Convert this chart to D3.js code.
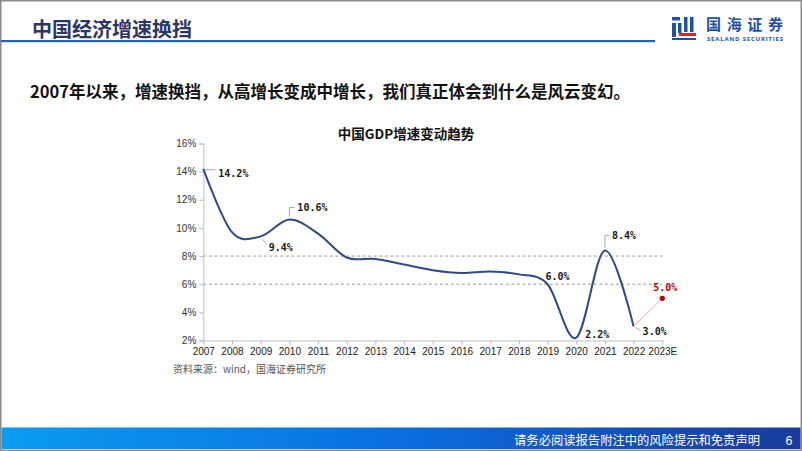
<!DOCTYPE html>
<html><head><meta charset="utf-8">
<script src="https://cdn.jsdelivr.net/npm/d3@7/dist/d3.min.js"></script>
<style>
html,body{margin:0;padding:0;background:#fff;}
svg{display:block;}
</style></head>
<body>
<svg id="c" width="802" height="451"></svg>
<script>
const years = ["2007","2008","2009","2010","2011","2012","2013","2014","2015","2016","2017","2018","2019","2020","2021","2022","2023E"];
const gdpActual = [14.2,9.7,9.4,10.6,9.6,7.9,7.8,7.4,7.0,6.8,6.9,6.7,6.0,2.2,8.4,3.0,null];
const gdpForecast = [null,null,null,null,null,null,null,null,null,null,null,null,null,null,null,3.0,5.0];
const yTicks = [2,4,6,8,10,12,14,16];
const refLines = [8,6];
const labelYears = ["2007","2009","2010","2019","2020","2021","2022","2023E"];
const labelTexts = ["14.2%","9.4%","10.6%","6.0%","2.2%","8.4%","3.0%","5.0%"];

const svg = d3.select("#c");
const CJK = "'Noto Sans CJK SC','Noto Sans',sans-serif";

// frame
svg.append("rect").attr("x",0.75).attr("y",0.75).attr("width",800.5).attr("height",449.5)
  .attr("fill","#fff").attr("stroke","#8a8a8a").attr("stroke-width",1.5);

// header
svg.append("text").attr("x",32).attr("y",37).attr("font-family",CJK).attr("font-weight",700)
  .attr("font-size",20).attr("fill","#2b3668").text("中国经济增速换挡");
svg.append("rect").attr("x",1).attr("y",40).attr("width",654).attr("height",2.2).attr("fill","#1f63c4");

// logo
const lg = svg.append("g");
lg.append("rect").attr("x",672).attr("y",17).attr("width",8).attr("height",3.5).attr("fill","#1e50a8");
lg.append("rect").attr("x",672).attr("y",23).attr("width",4).attr("height",14).attr("fill","#1e50a8");
lg.append("rect").attr("x",678).attr("y",23).attr("width",3.5).attr("height",10).attr("fill","#1e50a8");
lg.append("rect").attr("x",684).attr("y",17).attr("width",3.5).attr("height",15).attr("fill","#1e50a8");
lg.append("rect").attr("x",690).attr("y",17).attr("width",3.5).attr("height",15).attr("fill","#1e50a8");
lg.append("rect").attr("x",679).attr("y",33).attr("width",17).attr("height",3).attr("fill","#d8262e");
lg.append("rect").attr("x",672).attr("y",38).attr("width",24).attr("height",2).attr("fill","#1e50a8");
lg.append("text").attr("x",706).attr("y",30).attr("font-family",CJK).attr("font-weight",700)
  .attr("font-size",15).attr("fill","#1e50a8").attr("textLength",77).text("国海证券");
lg.append("text").attr("x",707).attr("y",41).attr("font-family","'Open Sans','Liberation Sans',sans-serif").attr("font-weight",700)
  .attr("font-size",6).attr("fill","#1e50a8").attr("textLength",76).text("SEALAND SECURITIES");

// subtitle
svg.append("text").attr("x",30).attr("y",98).attr("font-family",CJK).attr("font-weight",700)
  .attr("font-size",16.5).attr("fill","#111").text("2007年以来，增速换挡，从高增长变成中增长，我们真正体会到什么是风云变幻。");

// chart title
svg.append("text").attr("x",406).attr("y",139).attr("text-anchor","middle").attr("font-family",CJK).attr("font-weight",700)
  .attr("font-size",13.5).attr("fill","#111").text("中国GDP增速变动趋势");

// scales
const x = d3.scalePoint().domain(years).range([203.3,662.3]);
const y = d3.scaleLinear().domain([2,16]).range([340.5,143.5]);

// axes
const yAxis = svg.append("g").attr("transform","translate(203.3,0)")
  .call(d3.axisLeft(y).tickValues(yTicks).tickSize(4).tickPadding(3).tickFormat(d=>d+"%"));
yAxis.select(".domain").attr("stroke","#bfbfbf");
yAxis.selectAll(".tick line").attr("stroke","#bfbfbf");
yAxis.selectAll(".tick text").attr("font-family","'Liberation Sans Narrow','Liberation Sans',sans-serif")
  .attr("font-size",10).attr("fill","#333");

const xAxis = svg.append("g").attr("transform","translate(0,340.5)")
  .call(d3.axisBottom(x).tickSize(4).tickPadding(3).tickSizeOuter(0));
xAxis.select(".domain").attr("stroke","#bfbfbf");
xAxis.selectAll(".tick line").attr("stroke","#bfbfbf");
xAxis.selectAll(".tick text").attr("font-family","'Liberation Sans',sans-serif")
  .attr("font-size",10).attr("fill","#222");

// reference dashed lines
svg.selectAll(".ref").data(refLines).enter().append("line")
  .attr("x1",x(years[0])).attr("x2",x(years[years.length-1]))
  .attr("y1",d=>y(d)).attr("y2",d=>y(d))
  .attr("stroke","#9a9a9a").attr("stroke-width",1).attr("stroke-dasharray","3,2.5");

// lines
const pts = years.map((yr,i)=>({yr,v:gdpActual[i]})).filter(d=>d.v!=null);
const line = d3.line().x(d=>x(d.yr)).y(d=>y(d.v)).curve(d3.curveCardinal.tension(0));
svg.append("path").datum(pts).attr("d",line).attr("fill","none").attr("stroke","#2f4a8a").attr("stroke-width",2);

const fpts = years.map((yr,i)=>({yr,v:gdpForecast[i]})).filter(d=>d.v!=null);
svg.append("path").datum(fpts).attr("d",d3.line().x(d=>x(d.yr)).y(d=>y(d.v)))
  .attr("fill","none").attr("stroke","#f2a2a2").attr("stroke-width",1);
svg.append("circle").attr("cx",x("2023E")).attr("cy",y(gdpForecast[16])).attr("r",2.6).attr("fill","#c00000");

// data labels (offsets are styling)
const style = {
  "2007": {dx:15, dy:4, leader:[[2,1],[12,1]]},
  "2009": {dx:8, dy:11, leader:[[2,3],[6,8]]},
  "2010": {dx:8, dy:-12, leader:[[0,-3],[0,-12],[5,-12]]},
  "2019": {dx:-2, dy:-8, leader:null},
  "2020": {dx:9, dy:-4, leader:null},
  "2021": {dx:7, dy:-15, leader:[[0,-3],[0,-15],[4,-15]]},
  "2022": {dx:9, dy:5, leader:[[2,1],[7,4]]},
  "2023E": {dx:-9, dy:-11, leader:null}
};
labelYears.forEach((yr,i)=>{
  const idx = years.indexOf(yr);
  const v = gdpActual[idx]!=null ? gdpActual[idx] : gdpForecast[idx];
  const px = x(yr), py = y(v), s = style[yr];
  if (s.leader) {
    svg.append("path").attr("d", d3.line()(s.leader.map(p=>[px+p[0],py+p[1]])))
      .attr("fill","none").attr("stroke","#a6a6a6").attr("stroke-width",1);
  }
  svg.append("text").attr("x",px+s.dx).attr("y",py+s.dy+4)
    .attr("font-family","'DejaVu Sans Mono',monospace").attr("font-weight",700)
    .attr("font-size",10).attr("fill", yr==="2023E" ? "#c00000" : "#1a1a1a")
    .text(labelTexts[i]);
});

// source
svg.append("text").attr("x",173).attr("y",373).attr("font-family",CJK)
  .attr("font-size",10).attr("fill","#555").text("资料来源：wind，国海证券研究所");

// footer
const defs = svg.append("defs");
const gr = defs.append("linearGradient").attr("id","fg").attr("x1","0").attr("x2","1").attr("y1","0").attr("y2","0");
gr.append("stop").attr("offset","0").attr("stop-color","#0a9cf0");
gr.append("stop").attr("offset","0.5").attr("stop-color","#0a6ee0");
gr.append("stop").attr("offset","1").attr("stop-color","#1a3a9c");
svg.append("rect").attr("x",1.5).attr("y",427.5).attr("width",799).attr("height",21.5).attr("fill","url(#fg)");
svg.append("text").attr("x",760).attr("y",444.5).attr("text-anchor","end").attr("font-family",CJK)
  .attr("font-size",12.3).attr("fill","#fff").text("请务必阅读报告附注中的风险提示和免责声明");
svg.append("text").attr("x",789).attr("y",444.5).attr("text-anchor","middle").attr("font-family","'Liberation Sans',sans-serif")
  .attr("font-size",12.5).attr("fill","#fff").text("6");
</script>
</body></html>
